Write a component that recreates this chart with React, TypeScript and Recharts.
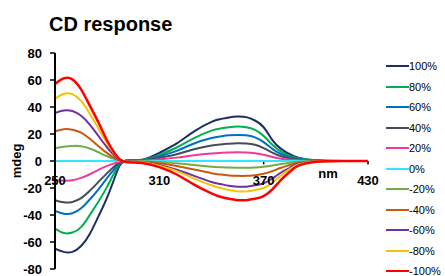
import React from 'react';
import {
  LineChart, Line, XAxis, YAxis, ReferenceLine, ReferenceDot,
} from 'recharts';

const wavelengths = [250, 255, 260, 265, 270, 275, 280, 285, 290, 300, 310, 320, 330, 340, 345, 350, 355, 360, 365, 370, 375, 380, 385, 390, 400, 415, 430];

const p100 = [-65, -67.3, -67.3, -63, -54, -41, -27, -10, 0, 1, 6, 13, 22, 29, 31, 32.3, 33, 32.5, 30, 25, 15.5, 9, 5, 2.5, 0.5, 0, 0];
const p80 = [-50, -53.3, -53, -49, -40, -30, -19, -6.5, 0, 0.8, 4.5, 10, 17, 22.5, 24, 25, 25.5, 25, 23, 18.5, 12, 7, 3.8, 2, 0.4, 0, 0];
const p60 = [-37, -39, -38.7, -35, -28.5, -21, -12.5, -4.5, 0, 0.6, 3.5, 7.5, 13, 17, 18.2, 19, 19.3, 19, 17.5, 14, 9, 5.2, 2.9, 1.5, 0.3, 0, 0];
const p40 = [-29, -30.6, -30.3, -27.5, -22, -15.5, -9, -3, 0, 0.4, 2.3, 5, 8.7, 11.5, 12.3, 12.8, 13.1, 12.9, 12, 9.5, 6.2, 3.5, 2, 1, 0.2, 0, 0];
const p20 = [-14, -14.6, -14.3, -12.5, -9.8, -6.5, -3.6, -1.3, 0, 0.2, 1.2, 2.5, 4.3, 5.6, 6, 6.3, 6.4, 6.3, 5.8, 4.7, 3, 1.7, 1, 0.5, 0.1, 0, 0];
const p0 = [0, 0, 0, 0, 0, 0, 0, 0, 0, 0, 0, 0, 0, 0, 0, 0, 0, 0, 0, 0, 0, 0, 0, 0, 0, 0, 0];
const m20 = [9.4, 10.5, 11.2, 11, 9.3, 6.5, 3.5, 1, -0.1, -0.2, -0.8, -1.7, -3, -4.2, -4.6, -4.9, -5, -5, -4.8, -4.3, -3.4, -2.3, -1.3, -0.6, -0.1, 0, 0];
const m40 = [22, 23.6, 23.2, 21, 16.5, 11, 5.8, 1.6, -0.1, -0.5, -1.7, -3.7, -6.3, -9, -10, -10.7, -11, -11, -10.5, -9.5, -7.5, -5, -3, -1.2, -0.2, 0, 0];
const m60 = [35.5, 37.4, 37, 33.5, 27, 18.5, 10, 3, -0.2, -0.8, -3, -6.5, -11, -15.5, -17, -18.3, -19, -19, -18, -16.5, -13, -8.5, -5, -2, -0.3, 0, 0];
const m80 = [46, 49.8, 49.5, 44.5, 35, 24, 13, 3.8, -0.3, -1, -3.5, -7.5, -13, -18, -20, -21.5, -22.5, -22.5, -21.5, -20, -16, -10.5, -6, -2.5, -0.3, 0, 0];
const m100 = [57, 61.2, 60.5, 53, 41, 28.5, 15, 4.5, -0.5, -1.5, -4.5, -10, -17.5, -24, -26.5, -28, -29, -29, -28, -26, -21, -14, -8, -3.5, -0.5, 0, 0];

const seriesNames = ['100%', '80%', '60%', '40%', '20%', '0%', '-20%', '-40%', '-60%', '-80%', '-100%'];
const seriesValues = [p100, p80, p60, p40, p20, p0, m20, m40, m60, m80, m100];
const seriesColors = ['#1B2F66', '#00B050', '#0070C0', '#444B5A', '#EE3A9A', '#33E6FF', '#70AD47', '#C55A11', '#7030A0', '#F2C500', '#FF0000'];

const yTicks = [-80, -60, -40, -20, 0, 20, 40, 60, 80];
const xTickLabels = [250, 310, 370, 430];
const xTickMarks = [310, 370, 430];
const xAxisTitle = 'nm';
const xAxisTitlePos = 407;
const yAxisTitle = 'mdeg';
const chartTitle = 'CD response';

const data = wavelengths.map((nm, i) => {
  const row: Record<string, number> = { nm };
  seriesNames.forEach((name, s) => { row[name] = seriesValues[s][i]; });
  return row;
});

const FONT = '"Liberation Sans", Arial, sans-serif';

const LegendBox = () => (
  <div style={{ position: 'absolute', left: 386, top: 56, width: 60, fontFamily: FONT }}>
    {seriesNames.map((name, s) => (
      <div key={name} style={{ display: 'flex', alignItems: 'center', height: 20.5 }}>
        <span style={{ display: 'inline-block', width: 23, height: 2, background: seriesColors[s] }} />
        <span style={{ fontSize: 11, color: '#000', lineHeight: '12px' }}>{name}</span>
      </div>
    ))}
  </div>
);

export default function App() {
  return (
    <div style={{ position: 'absolute', left: 0, top: 0, width: 445, height: 276, fontFamily: FONT, background: '#fff' }}>
      <div style={{ position: 'absolute', left: 49, top: 12, fontSize: 20, fontWeight: 'bold', lineHeight: '24px', color: '#000' }}>
        {chartTitle}
      </div>
      <LineChart width={445} height={276} data={data} margin={{ top: 53, right: 77, bottom: 7, left: 8 }}>
        <XAxis dataKey="nm" type="number" domain={[250, 430]} hide allowDataOverflow />
        <YAxis
          type="number"
          domain={[-80, 80]}
          ticks={yTicks}
          interval={0}
          width={47}
          tickSize={5}
          tickMargin={8}
          axisLine={{ stroke: '#000', strokeWidth: 2 }}
          tickLine={{ stroke: '#000', strokeWidth: 1.5 }}
          tick={{ fill: '#000', fontSize: 13, fontWeight: 'bold', fontFamily: FONT }}
          label={{ value: yAxisTitle, angle: -90, position: 'center', dx: -15, fill: '#000', fontSize: 13, fontWeight: 'bold', fontFamily: FONT }}
        />
        <ReferenceLine y={0} stroke="#000" strokeWidth={1.5} />
        {xTickMarks.map((t) => (
          <ReferenceLine key={'tm' + t} segment={[{ x: t, y: 0 }, { x: t, y: -2.5 }]} stroke="#000" strokeWidth={1.5} />
        ))}
        {seriesNames.map((name, s) => (
          <Line
            key={name}
            type="natural"
            dataKey={name}
            name={name}
            stroke={seriesColors[s]}
            strokeWidth={name === '-100%' ? 2.5 : 2}
            dot={false}
            activeDot={false}
            isAnimationActive={false}
          />
        ))}
        {xTickLabels.map((t) => (
          <ReferenceDot key={'tl' + t} x={t} y={0} r={0} fill="none" stroke="none"
            label={{ value: String(t), position: 'bottom', offset: 15, fill: '#000', fontSize: 13, fontWeight: 'bold', fontFamily: FONT }} />
        ))}
        <ReferenceDot x={xAxisTitlePos} y={0} r={0} fill="none" stroke="none"
          label={{ value: xAxisTitle, position: 'bottom', offset: 8, fill: '#000', fontSize: 13, fontWeight: 'bold', fontFamily: FONT }} />
      </LineChart>
      <LegendBox />
    </div>
  );
}
